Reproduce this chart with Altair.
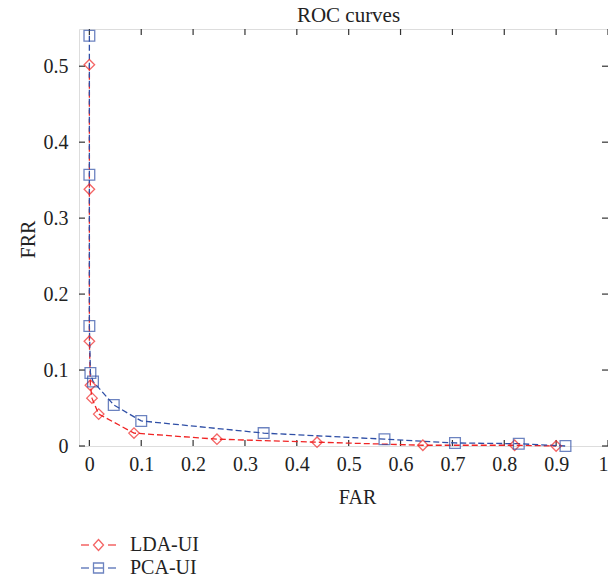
import altair as alt
import pandas as pd

# ---- data ----
series_names = ["LDA-UI", "PCA-UI"]
lda_far = [0.0, 0.0, 0.0, 0.002, 0.005, 0.018, 0.086, 0.246, 0.439, 0.643, 0.820, 0.900]
lda_frr = [0.502, 0.338, 0.138, 0.080, 0.063, 0.042, 0.017, 0.009, 0.005, 0.001, 0.001, 0.000]
pca_far = [0.0, 0.0, 0.0, 0.002, 0.007, 0.047, 0.100, 0.336, 0.569, 0.705, 0.828, 0.918]
pca_frr = [0.540, 0.357, 0.158, 0.096, 0.085, 0.054, 0.033, 0.017, 0.009, 0.004, 0.003, 0.000]
x_ticks = [0, 0.1, 0.2, 0.3, 0.4, 0.5, 0.6, 0.7, 0.8, 0.9, 1]
y_ticks = [0, 0.1, 0.2, 0.3, 0.4, 0.5]

# ---- styles ----
RED = "#f02424"
BLUE = "#2f4fa6"
FONT = "Liberation Serif"
W, H = 529, 417
TICK = 6

rows = []
for i, (x, y) in enumerate(zip(lda_far, lda_frr)):
    rows.append({"series": series_names[0], "FAR": x, "FRR": y, "idx": i})
for i, (x, y) in enumerate(zip(pca_far, pca_frr)):
    rows.append({"series": series_names[1], "FAR": x, "FRR": y, "idx": i})
df = pd.DataFrame(rows)

xscale = alt.Scale(domain=[-0.02, 1.0], nice=False, zero=False)
yscale = alt.Scale(domain=[0, 0.549], nice=False, zero=False)
color_scale = alt.Scale(domain=series_names, range=[RED, BLUE])

x_axis = alt.Axis(
    values=x_ticks, tickSize=0, domain=False, grid=False,
    labelExpr="datum.value == 0 ? '0' : datum.value == 1 ? '1' : format(datum.value, '.1f')",
    labelFont=FONT, labelFontSize=20, labelColor="#222", labelPadding=8,
    title="FAR", titleFont=FONT, titleFontSize=20, titleFontWeight="normal",
    titleColor="#222", titleX=278, titleY=51, titleBaseline="middle", titleAlign="center",
)
y_axis = alt.Axis(
    values=y_ticks, tickSize=0, domain=False, grid=False,
    labelExpr="datum.value == 0 ? '0' : format(datum.value, '.1f')",
    labelFont=FONT, labelFontSize=20, labelColor="#222", labelPadding=11,
    title="FRR", titleFont=FONT, titleFontSize=20, titleFontWeight="normal",
    titleColor="#222", titleX=-51, titleY=210, titleBaseline="middle", titleAlign="center",
    titleAngle=270,
)

base = alt.Chart(df)

lines = base.mark_line(strokeDash=[6, 3], strokeWidth=1.3).encode(
    x=alt.X("FAR:Q", scale=xscale, axis=x_axis),
    y=alt.Y("FRR:Q", scale=yscale, axis=y_axis),
    color=alt.Color("series:N", scale=color_scale, legend=None),
    detail="series:N",
    order=alt.Order("idx:Q"),
)

points = base.mark_point(filled=False, strokeWidth=1.3).encode(
    x=alt.X("FAR:Q", scale=xscale),
    y=alt.Y("FRR:Q", scale=yscale),
    color=alt.Color("series:N", scale=color_scale, legend=None),
    shape=alt.Shape("series:N", scale=alt.Scale(domain=series_names, range=["diamond", "square"]), legend=None),
    size=alt.Size("series:N", scale=alt.Scale(domain=series_names, range=[110, 115]), legend=None),
)

# legend-only layer (drawn outside the canvas on the right), symbols as line-marker-line paths
lda_sym = "M-1.75,0L-0.95,0M0.95,0L1.75,0M0,-0.55L0.5,0L0,0.55L-0.5,0Z"
pca_sym = "M-1.75,0L-0.95,0M0.95,0L1.75,0M-0.5,-0.5L0.5,-0.5L0.5,0.5L-0.5,0.5ZM-0.5,0L0.5,0"
leg_df = pd.DataFrame({"series": series_names})
leg_opts = dict(
    title=None, orient="none", legendX=8.5, legendY=505, direction="vertical",
    labelFont=FONT, labelFontSize=20, labelColor="#222", labelOffset=20.5,
    symbolSize=400, symbolStrokeWidth=1.3, rowPadding=2, padding=0,
    symbolFillColor="transparent",
)
legend_layer = alt.Chart(leg_df).mark_point(filled=False, strokeWidth=1.3, size=400).encode(
    x=alt.value(W + 400),
    y=alt.value(H / 2),
    color=alt.Color("series:N", scale=color_scale, legend=alt.Legend(**leg_opts)),
    shape=alt.Shape("series:N", scale=alt.Scale(domain=series_names, range=[lda_sym, pca_sym]),
                    legend=alt.Legend(**leg_opts)),
)

# inward ticks on all four sides
xt = pd.DataFrame({"t": x_ticks})
yt = pd.DataFrame({"t": y_ticks})
tick_style = dict(color="#333", strokeWidth=1.2)
bottom_ticks = alt.Chart(xt).mark_rule(**tick_style).encode(
    x=alt.X("t:Q", scale=xscale), y=alt.value(H), y2=alt.value(H - TICK))
top_ticks = alt.Chart(xt).mark_rule(**tick_style).encode(
    x=alt.X("t:Q", scale=xscale), y=alt.value(0), y2=alt.value(TICK))
left_ticks = alt.Chart(yt).mark_rule(**tick_style).encode(
    y=alt.Y("t:Q", scale=yscale), x=alt.value(0), x2=alt.value(TICK))
right_ticks = alt.Chart(yt).mark_rule(**tick_style).encode(
    y=alt.Y("t:Q", scale=yscale), x=alt.value(W), x2=alt.value(W - TICK))

chart = alt.layer(
    bottom_ticks, top_ticks, left_ticks, right_ticks, lines, points, legend_layer
).resolve_scale(
    color="independent", shape="independent", size="independent"
).properties(
    width=W, height=H,
    autosize=alt.AutoSizeParams(type="none"),
    padding={"left": 71, "top": 21, "right": 0, "bottom": 128},
    title=alt.Title("ROC curves", font=FONT, fontSize=21, fontWeight="normal",
                    color="#222", offset=2, dx=5, frame="group", anchor="middle"),
).configure_view(
    stroke="#333", strokeWidth=1.4
).configure(background="white")

chart.save("out.html", embed_options={"renderer": "svg", "actions": False})
